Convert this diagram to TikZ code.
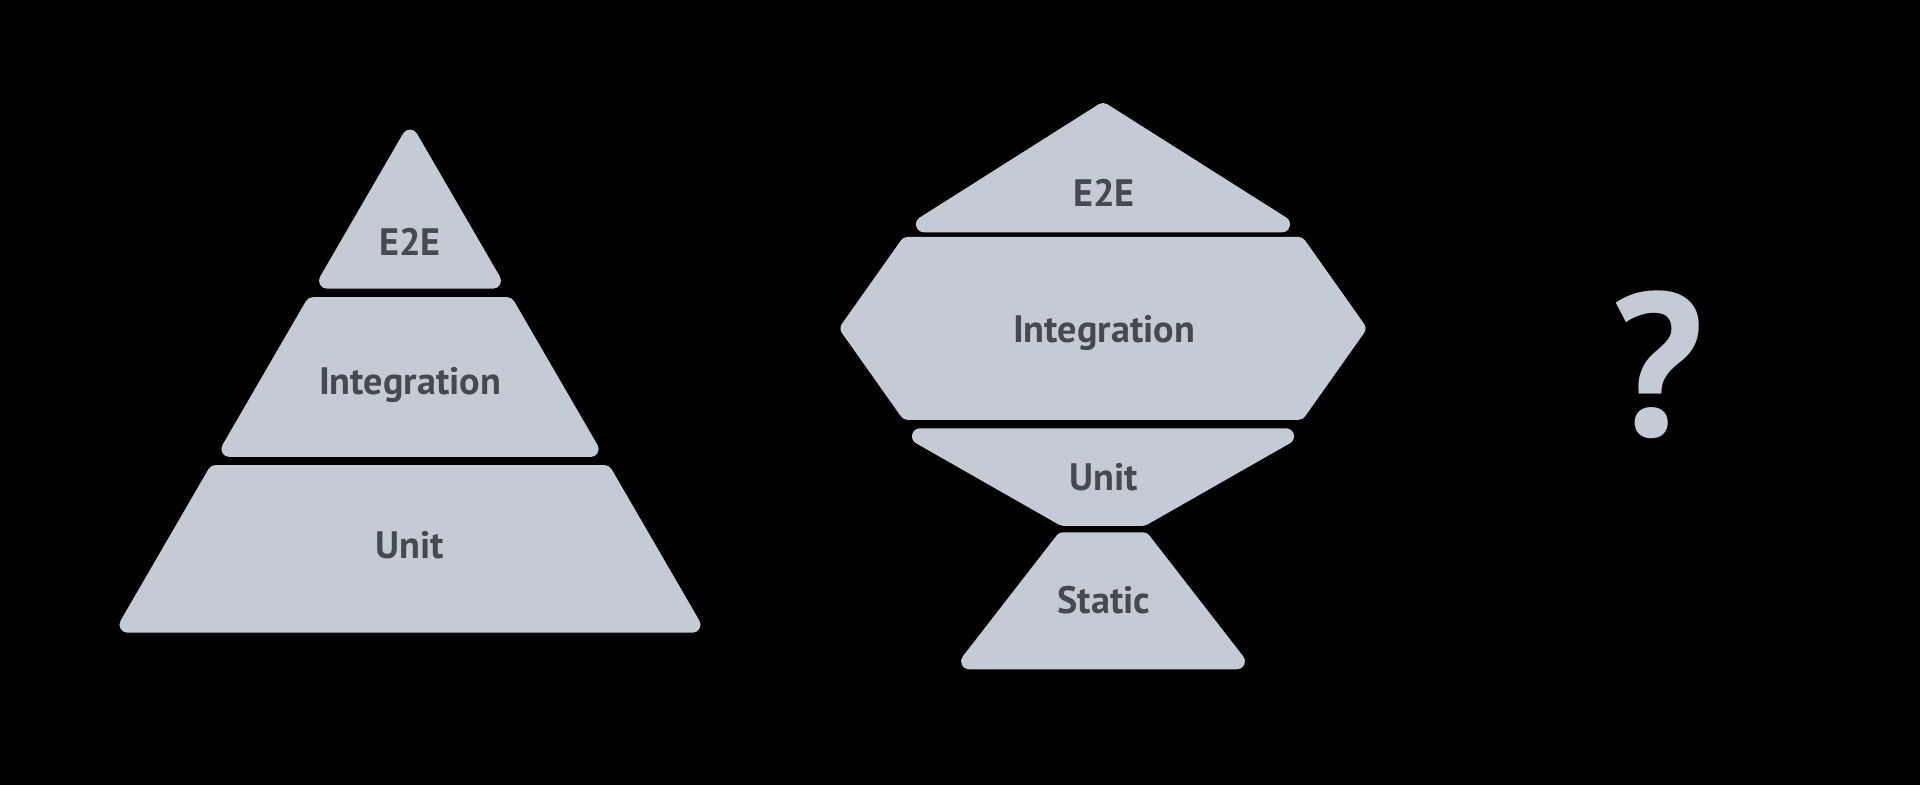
\documentclass[tikz,border=0pt]{standalone}
\usepackage{fontspec}
\setmainfont{PT Sans}
\definecolor{slab}{HTML}{C5CBD4}
\definecolor{ink}{HTML}{46494E}

\begin{document}
\begin{tikzpicture}[
    x=0.5pt, y=-0.5pt,
    layer/.style={fill=slab, draw=slab, line width=8pt, line join=round},
    tag/.style={text=ink, inner sep=0pt, anchor=base,
        font=\fontsize{19.1}{22}\selectfont\bfseries}
]
    \fill[black] (0,0) rectangle (1920,785);
    \useasboundingbox (0,0) rectangle (1920,785);

    % classic pyramid
    \filldraw[layer] (410,137.6) -- (493,280.7) -- (327,280.7) -- cycle;
    \filldraw[layer] (312.8,305.2) -- (507.2,305.2) -- (590.6,449) -- (229.4,449) -- cycle;
    \filldraw[layer] (215.4,473.1) -- (604.6,473.1) -- (692.5,624.7) -- (127.5,624.7) -- cycle;
    \node[tag] (pyrE2E) at (410,255.4) {E2E};
    \node[tag] (pyrInt) at (410,394.3) {Integration};
    \node[tag] (pyrUnit) at (410,558.7) {Unit};

    % the other shape
    \filldraw[layer] (1103,111) -- (1282,224.3) -- (924,224.3) -- cycle;
    \filldraw[layer] (907.5,245) -- (1298.5,245) -- (1357.5,328.4) -- (1298.5,411.8)
        -- (907.5,411.8) -- (848.5,328.4) -- cycle;
    \filldraw[layer] (920,436.3) -- (1286,436.3) -- (1143,517.8) -- (1063,517.8) -- cycle;
    \filldraw[layer] (1063,540.3) -- (1143,540.3) -- (1237,661.4) -- (969,661.4) -- cycle;
    \node[tag] (shpE2E) at (1104,206.3) {E2E};
    \node[tag] (shpInt) at (1104,342.1) {Integration};
    \node[tag] (shpUnit) at (1104,490.3) {Unit};
    \node[tag] (shpStatic) at (1104,613.9) {Static};

    % unknown
    \node[text=slab, inner sep=0pt, anchor=base,
        font=\fontsize{102}{110}\selectfont\bfseries] (what) at (1658,437) {?};
\end{tikzpicture}
\end{document}
